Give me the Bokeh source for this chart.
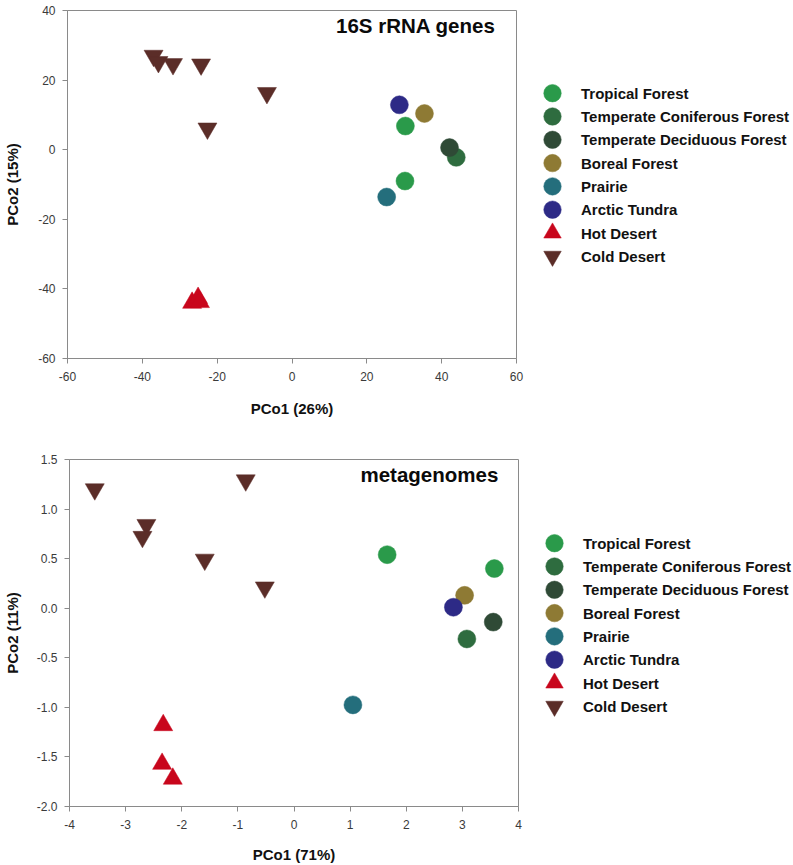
from bokeh.plotting import figure
from bokeh.models import (Range1d, FixedTicker, NumeralTickFormatter, Label,
                          ColumnDataSource)
from bokeh.layouts import column, row
from bokeh.core.properties import value
from bokeh.embed import file_html
from bokeh.resources import INLINE

# ---------------- data ----------------
categories = ["Tropical Forest", "Temperate Coniferous Forest", "Temperate Deciduous Forest",
              "Boreal Forest", "Prairie", "Arctic Tundra", "Hot Desert", "Cold Desert"]
category_markers = ["circle", "circle", "circle", "circle", "circle", "circle",
                    "triangle", "inverted_triangle"]
category_colors = ["#2a9a4a", "#2e6c3f", "#2f4a36", "#8e7a34", "#246e7c", "#2d2a86",
                   "#c8061c", "#5b2d28"]

point_groups = ["Tropical Forest", "Tropical Forest", "Temperate Coniferous Forest",
                "Temperate Deciduous Forest", "Boreal Forest", "Prairie", "Arctic Tundra",
                "Hot Desert", "Hot Desert", "Hot Desert",
                "Cold Desert", "Cold Desert", "Cold Desert", "Cold Desert", "Cold Desert", "Cold Desert"]

# 16S rRNA genes ordination
s16_pco1 = [30.3, 30.2, 43.9, 42.1, 35.4, 25.3, 28.7,
            -26.7, -25.1, -24.6,
            -37.0, -35.7, -31.8, -24.3, -6.7, -22.6]
s16_pco2 = [6.8, -9.0, -2.2, 0.6, 10.4, -13.6, 12.9,
            -44.0, -42.6, -43.8,
            27.0, 25.2, 24.6, 24.5, 16.3, 6.1]

# metagenome ordination
meta_pco1 = [1.66, 3.57, 3.08, 3.55, 3.04, 1.05, 2.84,
             -2.33, -2.35, -2.16,
             -3.55, -0.86, -2.63, -2.70, -1.59, -0.52]
meta_pco2 = [0.54, 0.40, -0.31, -0.14, 0.13, -0.975, 0.01,
             -1.18, -1.57, -1.72,
             1.20, 1.29, 0.84, 0.72, 0.49, 0.21]

s16_xticks = [-60, -40, -20, 0, 20, 40, 60]
s16_yticks = [-60, -40, -20, 0, 20, 40]
meta_xticks = [-4, -3, -2, -1, 0, 1, 2, 3, 4]
meta_yticks = [-2.0, -1.5, -1.0, -0.5, 0.0, 0.5, 1.0, 1.5]

FONT = "Liberation Sans"
GRAY = "#8a8a8a"
LEG_W = 269
ROW_PITCH = 23.3


def make_panel(xs, ys, xticks, yticks, xfmt, yfmt, xlabel, ylabel, title,
               title_xy, frame_h, top, bottom, x_lab_standoff, y_lab_standoff):
    p = figure(frame_width=449, frame_height=frame_h,
               x_range=Range1d(xticks[0], xticks[-1]),
               y_range=Range1d(yticks[0], yticks[-1]),
               output_backend="svg", toolbar_location=None,
               min_border_left=67, min_border_right=8,
               min_border_top=top, min_border_bottom=bottom)
    p.grid.visible = False
    p.outline_line_color = GRAY
    p.outline_line_width = 1
    p.background_fill_color = "white"
    p.border_fill_color = "white"

    for ax, ticks, fmt, lab, st in ((p.xaxis, xticks, xfmt, xlabel, x_lab_standoff),
                                    (p.yaxis, yticks, yfmt, ylabel, y_lab_standoff)):
        ax.ticker = FixedTicker(ticks=ticks)
        ax.formatter = NumeralTickFormatter(format=fmt)
        ax.axis_label = lab
        ax.axis_label_text_font = FONT
        ax.axis_label_text_font_style = "bold"
        ax.axis_label_text_font_size = "15px"
        ax.axis_label_text_color = "#111111"
        ax.axis_label_standoff = st
        ax.major_label_text_font = FONT
        ax.major_label_text_font_size = "12px"
        ax.major_label_text_color = "#3a3a3a"
        ax.axis_line_color = GRAY
        ax.major_tick_line_color = GRAY
        ax.major_tick_in = 0
        ax.major_tick_out = 5
        ax.minor_tick_out = 0
        ax.minor_tick_in = 0
    p.xaxis.major_label_standoff = 8
    p.yaxis.major_label_standoff = 7

    for cat, mk, col in zip(categories, category_markers, category_colors):
        idx = [i for i, g in enumerate(point_groups) if g == cat]
        src = ColumnDataSource(dict(x=[xs[i] for i in idx], y=[ys[i] for i in idx]))
        size = 18 if mk == "circle" else 19
        p.scatter(x="x", y="y", source=src, marker=mk, size=size,
                  fill_color=col, line_color=col, line_width=0.5)

    p.add_layout(Label(x=title_xy[0], y=title_xy[1], text=title, text_align="right",
                       text_baseline="middle", text_font=FONT, text_font_style="bold",
                       text_font_size="20.5px", text_color="#0a0a0a"))
    return p


def make_legend(frame_h, top, bottom, first_row_offset):
    # flipped ordinal axis: category rank 0 at first_row_offset px below the frame top
    top_val = -first_row_offset / ROW_PITCH
    bottom_val = top_val + frame_h / ROW_PITCH
    lg = figure(frame_width=LEG_W, frame_height=frame_h,
                x_range=Range1d(0, LEG_W), y_range=Range1d(bottom_val, top_val),
                output_backend="svg", toolbar_location=None,
                x_axis_location=None, y_axis_location=None,
                min_border_left=0, min_border_right=0,
                min_border_top=top, min_border_bottom=bottom)
    lg.grid.visible = False
    lg.outline_line_color = None
    lg.border_fill_color = "white"
    src = ColumnDataSource(dict(rank=list(range(len(categories))), cat=categories,
                                marker=category_markers, color=category_colors))
    lg.scatter(x=28, y="rank", source=src, marker="marker", size=17.5,
               fill_color="color", line_color="color", line_width=0.5)
    lg.text(x=56.5, y="rank", text="cat", source=src, text_font=value(FONT),
            text_font_style="bold", text_font_size="15px", text_color="#111111",
            text_baseline="middle", text_align="left")
    return lg


p1 = make_panel(s16_pco1, s16_pco2, s16_xticks, s16_yticks, "0", "0",
                "PCo1 (26%)", "PCo2 (15%)", "16S rRNA genes", (54.4, 35.7),
                frame_h=348, top=10, bottom=60, x_lab_standoff=16, y_lab_standoff=14)
p2 = make_panel(meta_pco1, meta_pco2, meta_xticks, meta_yticks, "0", "0.0",
                "PCo1 (71%)", "PCo2 (11%)", "metagenomes", (3.64, 1.349),
                frame_h=347, top=40, bottom=58, x_lab_standoff=14, y_lab_standoff=13)

l1 = make_legend(348, 10, 60, 82.7)
l2 = make_legend(347, 40, 58, 83.7)

layout = column(row(p1, l1, spacing=0), row(p2, l2, spacing=0), spacing=0)
open("out.html", "w").write(file_html(layout, INLINE))
